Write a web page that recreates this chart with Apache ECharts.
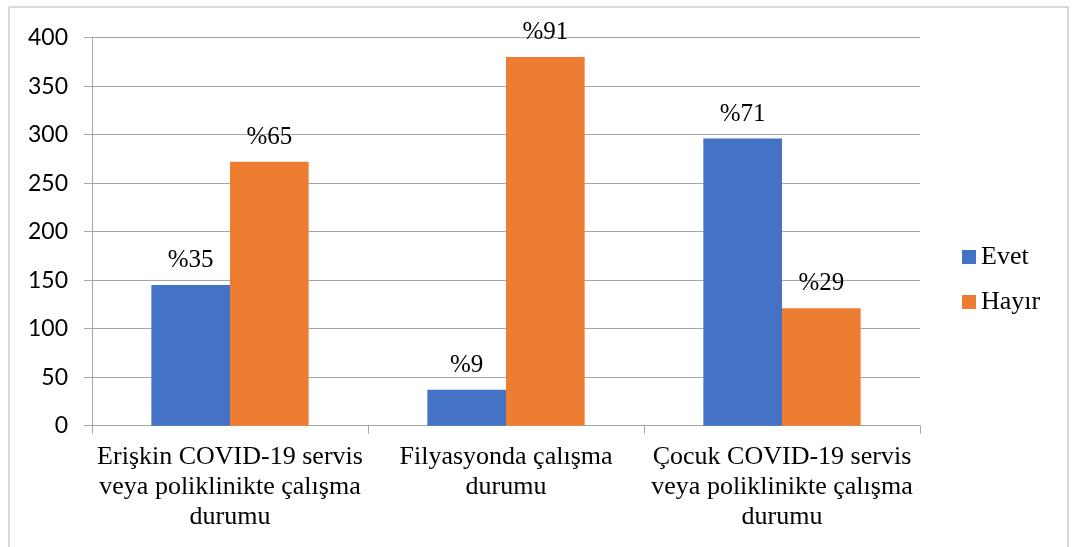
<!DOCTYPE html>
<html>
<head>
<meta charset="utf-8">
<script src="https://cdn.jsdelivr.net/npm/echarts@6/dist/echarts.min.js"></script>
<style>
  html, body { margin: 0; padding: 0; background: #ffffff; }
  #chart { width: 1080px; height: 547px; }
</style>
</head>
<body>
<div id="chart"></div>
<script>
const categories = [
  "Erişkin COVID-19 servis\nveya poliklinikte çalışma\ndurumu",
  "Filyasyonda çalışma\ndurumu",
  "Çocuk COVID-19 servis\nveya poliklinikte çalışma\ndurumu"
];
const seriesNames = ["Evet", "Hayır"];
const evetValues = [145, 37, 296];
const hayirValues = [272, 380, 121];
const evetLabels = ["%35", "%9", "%71"];
const hayirLabels = ["%65", "%91", "%29"];
const yTicks = { min: 0, max: 400, interval: 50 };

const gray = "#a6a6a6";
const serif = "'Liberation Serif', 'Times New Roman', serif";

function labelFmt(arr) {
  return function (p) { return arr[p.dataIndex]; };
}

const chart = echarts.init(document.getElementById("chart"), null, { renderer: "canvas" });
chart.setOption({
  animation: false,
  backgroundColor: "#ffffff",
  graphic: [{
    type: "rect",
    shape: { x: 9, y: 7, width: 1059, height: 560 },
    style: { fill: "none", stroke: "#b4b4b4", lineWidth: 1 },
    silent: true,
    z: -10
  }],
  grid: { left: 92, right: 160, top: 37.7, bottom: 121.3, containLabel: false },
  legend: {
    orient: "vertical",
    left: 962,
    top: 244,
    padding: 0,
    itemWidth: 14,
    itemHeight: 14,
    itemGap: 19,
    icon: "rect",
    data: seriesNames,
    textStyle: { fontFamily: serif, fontSize: 26, color: "#000", lineHeight: 26 }
  },
  xAxis: {
    type: "category",
    data: categories,
    axisLine: { show: true, lineStyle: { color: gray, width: 1 } },
    axisTick: { show: true, length: 8, alignWithLabel: false, lineStyle: { color: gray } },
    axisLabel: {
      interval: 0,
      margin: 16,
      fontFamily: serif,
      fontSize: 26,
      lineHeight: 30,
      color: "#000",
      align: "center"
    },
    splitLine: { show: false }
  },
  yAxis: {
    type: "value",
    min: yTicks.min,
    max: yTicks.max,
    interval: yTicks.interval,
    axisLine: { show: true, lineStyle: { color: gray, width: 1 } },
    axisTick: { show: true, length: 8, lineStyle: { color: gray } },
    axisLabel: { margin: 24, fontFamily: "Lato, 'Open Sans', sans-serif", fontSize: 23, color: "#000" },
    splitLine: { show: true, lineStyle: { color: gray, width: 1 } }
  },
  series: [
    {
      name: seriesNames[0],
      type: "bar",
      data: evetValues,
      barGap: "0%",
      barCategoryGap: "43%",
      itemStyle: { color: "#4472C4" },
      label: {
        show: true, position: "top", distance: 12,
        formatter: labelFmt(evetLabels),
        fontFamily: serif, fontSize: 25, color: "#000"
      }
    },
    {
      name: seriesNames[1],
      type: "bar",
      data: hayirValues,
      barGap: "0%",
      barCategoryGap: "43%",
      itemStyle: { color: "#ED7D31" },
      label: {
        show: true, position: "top", distance: 12,
        formatter: labelFmt(hayirLabels),
        fontFamily: serif, fontSize: 25, color: "#000"
      }
    }
  ]
});
</script>
</body>
</html>
